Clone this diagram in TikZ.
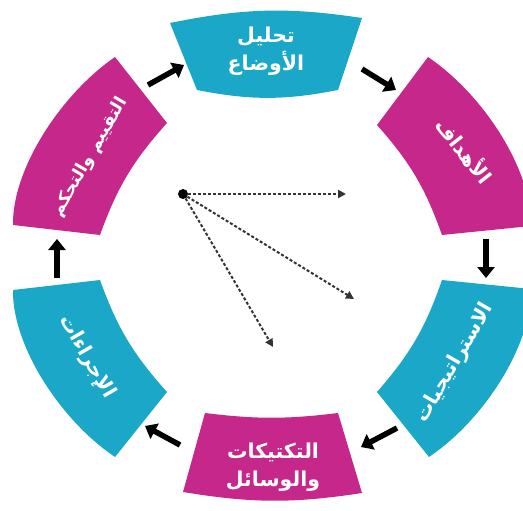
\documentclass[tikz,border=0pt]{standalone}
\usepackage{fontspec}
\usetikzlibrary{arrows.meta}
\newfontfamily\arabicfont[Script=Arabic]{DejaVu Sans}
\TeXXeTstate=1
\definecolor{ringcyan}{RGB}{27,168,200}
\definecolor{ringmagenta}{RGB}{197,40,138}
\newcommand\artxt[1]{{\arabicfont\bfseries\beginR #1\endR}}

\begin{document}
\begin{tikzpicture}[x=1pt,y=-1pt,
  label/.style={text=white,align=center,inner sep=0pt},
  biglabel/.style={label,font=\fontsize{20.5}{28}\selectfont},
  sidelabel/.style={label,font=\fontsize{20}{22}\selectfont},
  flow/.style={line width=5.5pt,-{Triangle[length=11pt,width=17pt]}},
  ray/.style={line width=2pt,black!80,dash pattern=on 3pt off 2pt,
    -{Triangle[length=8pt,width=8pt]}}]
\useasboundingbox (0,0) rectangle (523,511);
\clip (0,0) rectangle (523,511);

% ring segments
\fill[ringcyan] (170,23) to[bend left=10] (362,18) -- (338,90)
  to[bend left=11] (197,90) -- cycle;
\fill[ringmagenta] (428,57) .. controls (484,95) and (532,170) .. (531,226)
  -- (442,235) to[bend right=11] (377,125) -- cycle;
\fill[ringcyan] (442,280) -- (531,289) .. controls (532,345) and (484,420) .. (429,457)
  -- (377,392) to[bend right=11] (442,280) -- cycle;
\fill[ringmagenta] (205,413) to[bend right=7] (338,413) -- (362,493)
  to[bend left=9] (183,492) -- cycle;
\fill[ringcyan] (100,280) -- (13,290) .. controls (12,345) and (60,420) .. (115,457)
  -- (167,392) to[bend left=11] (100,280) -- cycle;
\fill[ringmagenta] (13,225) .. controls (12,170) and (60,95) .. (115,57)
  -- (167,123) to[bend right=11] (100,235) -- cycle;

% labels
\node[biglabel] (situation) at (266,51) {\artxt{تحليل}\\\artxt{الأوضاع}};
\node[sidelabel,rotate=-52] (goals) at (465,150) {\artxt{الأهداف}};
\node[sidelabel,rotate=60] (strategies) at (455,363) {\artxt{الاستراتيجيات}};
\node[biglabel] (tactics) at (273,467) {\artxt{التكتيكات}\\\artxt{والوسائل}};
\node[sidelabel,rotate=-60] (actions) at (87,357) {\artxt{الإجراءات}};
\node[sidelabel,rotate=60,font=\fontsize{17.5}{20}\selectfont] (control) at (90,157)
  {\artxt{التقييم والتحكم}};

% cycle arrows between segments
\coordinate (a1s) at (148,85);  \coordinate (a1e) at (184,65);
\coordinate (a2s) at (362,69);  \coordinate (a2e) at (396,90);
\coordinate (a3s) at (486,239); \coordinate (a3e) at (486,278);
\coordinate (a4s) at (397,428); \coordinate (a4e) at (361,447);
\coordinate (a5s) at (180,445); \coordinate (a5e) at (145,426);
\coordinate (a6s) at (57,278);  \coordinate (a6e) at (57,239);
\foreach \i in {1,...,6} \draw[flow] (a\i s) -- (a\i e);

% centre point with dashed rays
\node[circle,fill=black,inner sep=0pt,minimum size=10pt] (hub) at (183,194) {};
\coordinate (r1) at (346,194);
\coordinate (r2) at (354,299);
\coordinate (r3) at (273,347);
\foreach \r in {r1,r2,r3} \draw[ray] (hub) -- (\r);
\end{tikzpicture}
\end{document}
